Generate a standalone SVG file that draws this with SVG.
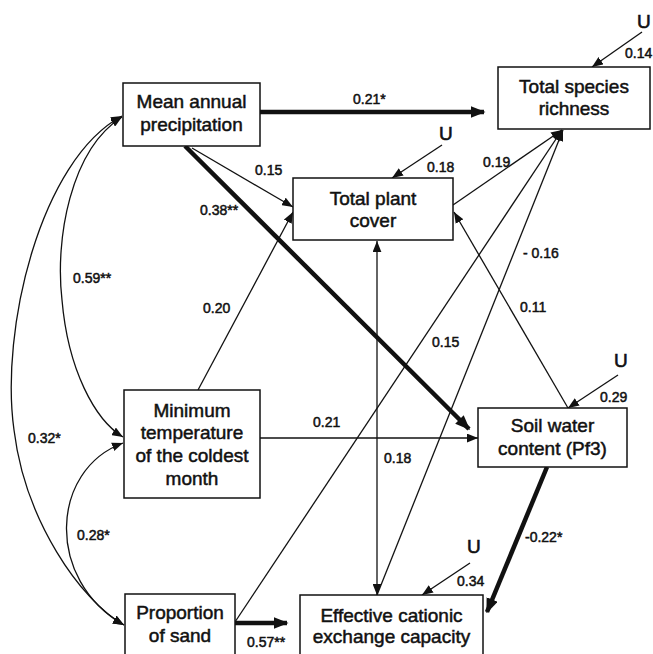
<svg xmlns="http://www.w3.org/2000/svg" width="653" height="654" viewBox="0 0 653 654">
<style>
.box{fill:#fff;stroke:#111;stroke-width:1.5}
.nt{font-family:"Liberation Sans",Arial,sans-serif;font-size:19px;fill:#111;text-anchor:middle;stroke:#111;stroke-width:0.5}
.lb{font-family:"Liberation Sans",Arial,sans-serif;font-size:14px;fill:#111;stroke:#111;stroke-width:0.5}
.u{font-family:"Liberation Sans",Arial,sans-serif;font-size:19px;fill:#111;stroke:#111;stroke-width:0.6}
.thin{fill:none;stroke:#111;stroke-width:1.3}
.thick{fill:none;stroke:#111;stroke-width:4.5}
</style>
<defs>
<marker id="a" viewBox="0 0 10 8" refX="10" refY="4" markerWidth="11" markerHeight="9" markerUnits="userSpaceOnUse" orient="auto-start-reverse"><path d="M0,0 L10,4 L0,8 z" fill="#111"/></marker>
<marker id="at" viewBox="0 0 10 8" refX="9" refY="4" markerWidth="15" markerHeight="12" markerUnits="userSpaceOnUse" orient="auto"><path d="M0,0 L10,4 L0,8 z" fill="#111"/></marker>
</defs>
<rect width="653" height="654" fill="#fff"/>
<g id="connectors">
<path class="thick" d="M260,112 L484,112" marker-end="url(#at)"/>
<path class="thin" d="M192,148 L293,207" marker-end="url(#a)"/>
<path class="thick" d="M185,146 L469,429" marker-end="url(#at)"/>
<path class="thin" d="M198,390 L293,212" marker-end="url(#a)"/>
<path class="thin" d="M260,438 L478,438" marker-end="url(#a)"/>
<path class="thin" d="M377,241 L377,595" marker-start="url(#a)" marker-end="url(#a)"/>
<path class="thin" d="M453,205 L562,130" marker-end="url(#a)"/>
<path class="thin" d="M235,622 L562,130" marker-end="url(#a)"/>
<path class="thin" d="M377,595 L563,130" marker-end="url(#a)"/>
<path class="thin" d="M568,408 L454,212" marker-end="url(#a)"/>
<path class="thick" d="M547,467 L487,612" marker-end="url(#at)"/>
<path class="thick" d="M235,623 L287,623" marker-end="url(#at)"/>
<path class="thin" d="M642,32 L592,67" marker-end="url(#a)"/>
<path class="thin" d="M442,145 L392,178" marker-end="url(#a)"/>
<path class="thin" d="M618,375 L568,408" marker-end="url(#a)"/>
<path class="thin" d="M470,563 L422,595" marker-end="url(#a)"/>
<path class="thin" d="M122,116 C40,160 0,330 14,430 C25,520 80,600 124,625" marker-start="url(#a)" marker-end="url(#a)"/>
<path class="thin" d="M122,117 C70,150 55,240 62,300 C68,370 95,420 123,437" marker-start="url(#a)" marker-end="url(#a)"/>
<path class="thin" d="M123,443 C50,470 45,580 124,625" marker-start="url(#a)" marker-end="url(#a)"/>
</g>
<g id="labels">
<text class="lb" x="353" y="104">0.21*</text>
<text class="lb" x="255" y="175">0.15</text>
<text class="lb" x="200" y="215">0.38**</text>
<text class="u" x="439" y="140">U</text>
<text class="lb" x="427" y="172">0.18</text>
<text class="u" x="637" y="28">U</text>
<text class="lb" x="625" y="58">0.14</text>
<text class="lb" x="483" y="167">0.19</text>
<text class="lb" x="523" y="258">- 0.16</text>
<text class="lb" x="520" y="312">0.11</text>
<text class="lb" x="73" y="283">0.59**</text>
<text class="lb" x="203" y="313">0.20</text>
<text class="lb" x="28" y="443">0.32*</text>
<text class="lb" x="313" y="427">0.21</text>
<text class="lb" x="432" y="347">0.15</text>
<text class="u" x="614" y="367">U</text>
<text class="lb" x="600" y="402">0.29</text>
<text class="lb" x="384" y="463">0.18</text>
<text class="lb" x="525" y="542">-0.22*</text>
<text class="u" x="467" y="553">U</text>
<text class="lb" x="457" y="586">0.34</text>
<text class="lb" x="77" y="540">0.28*</text>
<text class="lb" x="247" y="647">0.57**</text>
</g>
<g id="n-map"><rect class="box" x="123" y="83" width="137" height="63"/><text class="nt" x="191.5" y="108">Mean annual</text><text class="nt" x="191.5" y="131">precipitation</text></g>
<g id="n-tsr"><rect class="box" x="498" y="67" width="152" height="62"/><text class="nt" x="574" y="93">Total species</text><text class="nt" x="574" y="115">richness</text></g>
<g id="n-tpc"><rect class="box" x="293" y="178" width="160" height="62"/><text class="nt" x="373" y="205">Total plant</text><text class="nt" x="373" y="227">cover</text></g>
<g id="n-mintemp"><rect class="box" x="124" y="390" width="136" height="108"/><text class="nt" x="192" y="417">Minimum</text><text class="nt" x="192" y="439">temperature</text><text class="nt" x="192" y="462">of the coldest</text><text class="nt" x="192" y="485">month</text></g>
<g id="n-soil"><rect class="box" x="478" y="408" width="149" height="59"/><text class="nt" x="552.5" y="432">Soil water</text><text class="nt" x="552.5" y="455">content (Pf3)</text></g>
<g id="n-sand"><rect class="box" x="125" y="594" width="110" height="62"/><text class="nt" x="180" y="619">Proportion</text><text class="nt" x="180" y="642">of sand</text></g>
<g id="n-ecec"><rect class="box" x="300" y="595" width="183" height="62"/><text class="nt" x="391.5" y="622">Effective cationic</text><text class="nt" x="391.5" y="643">exchange capacity</text></g>
</svg>
